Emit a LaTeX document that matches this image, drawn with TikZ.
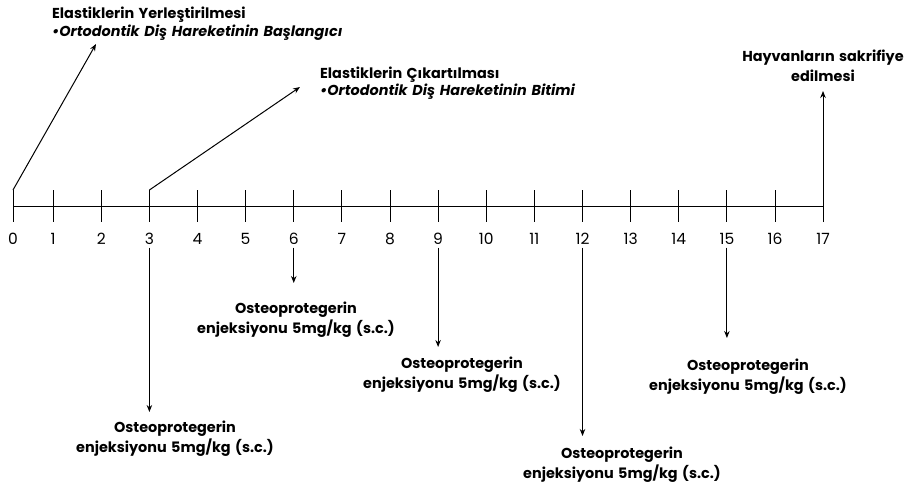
\documentclass[tikz,border=0pt]{standalone}
\usepackage{fontspec}
\setmainfont{Poppins}
\newfontfamily\labfont[WordSpace=1.45]{Poppins}
\usetikzlibrary{arrows.meta}
\begin{document}
\begin{tikzpicture}[x=1pt,y=-1pt,
  ln/.style={line width=1pt,black},
  arr/.style={line width=1pt,-{Stealth[length=7pt,width=5.5pt]}},
  num/.style={font=\fontsize{15.5}{15.5}\selectfont,inner sep=0pt,minimum height=16pt},
  lab/.style={font=\labfont\fontsize{14.4}{20}\selectfont\bfseries,align=center,inner sep=0pt},
  toplab/.style={font=\labfont\fontsize{14.4}{17.5}\selectfont\bfseries,align=left,inner sep=0pt,anchor=west}]
\useasboundingbox (0,0) rectangle (909,490);
% axis
\coordinate (a0) at (13,206);
\coordinate (a17) at (823,206);
\draw[ln] (a0) -- (a17);
\foreach \k/\x in {0/13,1/53,2/101.25,3/149.4,4/197.5,5/245.6,6/293.75,7/341.9,8/390,9/438.1,10/486.25,11/534.4,12/582.5,13/630.6,14/678.75,15/726.9,16/775,17/823}{
  \coordinate (tt\k) at (\x,190);
  \coordinate (tb\k) at (\x,222);
  \draw[ln] (tt\k) -- (tb\k);
  \node[num] (n\k) at (\x,238.5) {\k};
}
% top arrows
\coordinate (e0) at (96,44);
\coordinate (e3) at (300,87);
\coordinate (e17) at (823,91);
\draw[arr] (tt0) -- (e0);
\draw[arr] (tt3) -- (e3);
\draw[arr] (tb17) -- (e17);
\node[toplab] (L0) at (52,23.5) {Elastiklerin Yerleştirilmesi\\\textit{•Ortodontik Diş Hareketinin Başlangıcı}};
\node[toplab] (L3) at (320,83) {Elastiklerin Çıkartılması\\\textit{•Ortodontik Diş Hareketinin Bitimi}};
\node[lab] (L17) at (823,66) {Hayvanların sakrifiye\\edilmesi};
% injection arrows
\coordinate (d3) at (149.4,412);
\coordinate (d6) at (293.75,283);
\coordinate (d9) at (438.1,347);
\coordinate (d12) at (582.5,436);
\coordinate (d15) at (726.9,338);
\foreach \k in {3,6,9,12,15}{
  \draw[arr] ([yshift=-1pt]n\k.south) -- (d\k);
}
\node[lab] (I3) at (175,439) {Osteoprotegerin\\enjeksiyonu 5mg/kg (s.c.)};
\node[lab] (I6) at (296,320) {Osteoprotegerin\\enjeksiyonu 5mg/kg (s.c.)};
\node[lab] (I9) at (462,375) {Osteoprotegerin\\enjeksiyonu 5mg/kg (s.c.)};
\node[lab] (I12) at (622,464.5) {Osteoprotegerin\\enjeksiyonu 5mg/kg (s.c.)};
\node[lab] (I15) at (748,377) {Osteoprotegerin\\enjeksiyonu 5mg/kg (s.c.)};
\end{tikzpicture}
\end{document}
